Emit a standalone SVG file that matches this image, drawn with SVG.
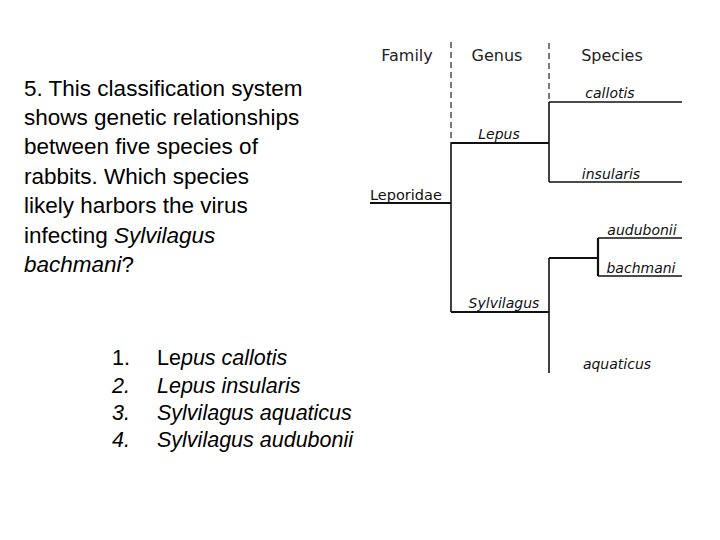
<svg xmlns="http://www.w3.org/2000/svg" width="720" height="540" viewBox="0 0 720 540">
<style>
.q{font-family:"Liberation Sans",Arial,sans-serif;font-size:22.5px;fill:#000}
.o{font-family:"Liberation Sans",Arial,sans-serif;font-size:21.5px;fill:#000}
.h{font-family:"DejaVu Sans","Liberation Sans",sans-serif;font-size:16px;fill:#222;text-anchor:middle}
.t{font-family:"DejaVu Sans","Liberation Sans",sans-serif;font-size:14px;fill:#111;font-style:italic;text-anchor:middle}
.n{font-family:"DejaVu Sans","Liberation Sans",sans-serif;font-size:14.5px;fill:#111}
.dash{stroke:#222;stroke-width:1.2;stroke-dasharray:6,4;fill:none}
.ln{stroke:#111;stroke-width:1.6;fill:none}
.bl{stroke:#111;stroke-width:2.2;fill:none}
</style>
<rect width="720" height="540" fill="#fff"/>
<g id="question">
<text class="q" x="24" y="96">5. This classification system</text>
<text class="q" x="24" y="125">shows genetic relationships</text>
<text class="q" x="24" y="154">between five species of</text>
<text class="q" x="24" y="184">rabbits. Which species</text>
<text class="q" x="24" y="213">likely harbors the virus</text>
<text class="q" x="24" y="243">infecting <tspan font-style="italic">Sylvilagus</tspan></text>
<text class="q" x="24" y="272"><tspan font-style="italic">bachmani</tspan>?</text>
</g>
<g id="options">
<text class="o" x="112" y="365">1.</text>
<text class="o" x="157" y="365">Le<tspan font-style="italic">pus callotis</tspan></text>
<text class="o" x="112" y="393" font-style="italic">2.</text>
<text class="o" x="157" y="393" font-style="italic">Lepus insularis</text>
<text class="o" x="112" y="420" font-style="italic">3.</text>
<text class="o" x="157" y="420" font-style="italic">Sylvilagus aquaticus</text>
<text class="o" x="112" y="447" font-style="italic">4.</text>
<text class="o" x="157" y="447" font-style="italic">Sylvilagus audubonii</text>
</g>
<g id="headers">
<text class="h" x="407" y="61">Family</text>
<text class="h" x="497" y="61">Genus</text>
<text class="h" x="612" y="61">Species</text>
</g>
<g id="connectors">
<path class="dash" d="M451,42 V143"/>
<path class="dash" d="M549,43 V102"/>
<path class="bl" d="M370,203 H451"/>
<path class="ln" d="M451,143 V312"/>
<path class="bl" d="M451,143 H549"/>
<path class="bl" d="M451,312 H549"/>
<path class="ln" d="M549,102 V182"/>
<path class="ln" d="M549,102 H682"/>
<path class="ln" d="M549,182 H682"/>
<path class="ln" d="M549,258 V373"/>
<path class="bl" d="M549,258 H598"/>
<path class="bl" d="M598,238 V276"/>
<path class="ln" d="M598,238 H682"/>
<path class="ln" d="M598,276 H682"/>
</g>
<g id="Leporidae"><text class="n" x="370" y="200">Leporidae</text></g>
<g id="Lepus"><text class="t" x="499" y="139">Lepus</text></g>
<g id="Sylvilagus"><text class="t" x="504" y="308">Sylvilagus</text></g>
<g id="callotis"><text class="t" x="610" y="98">callotis</text></g>
<g id="insularis"><text class="t" x="611" y="179">insularis</text></g>
<g id="audubonii"><text class="t" x="642" y="235">audubonii</text></g>
<g id="bachmani"><text class="t" x="641" y="273">bachmani</text></g>
<g id="aquaticus"><text class="t" x="617" y="369">aquaticus</text></g>
</svg>
